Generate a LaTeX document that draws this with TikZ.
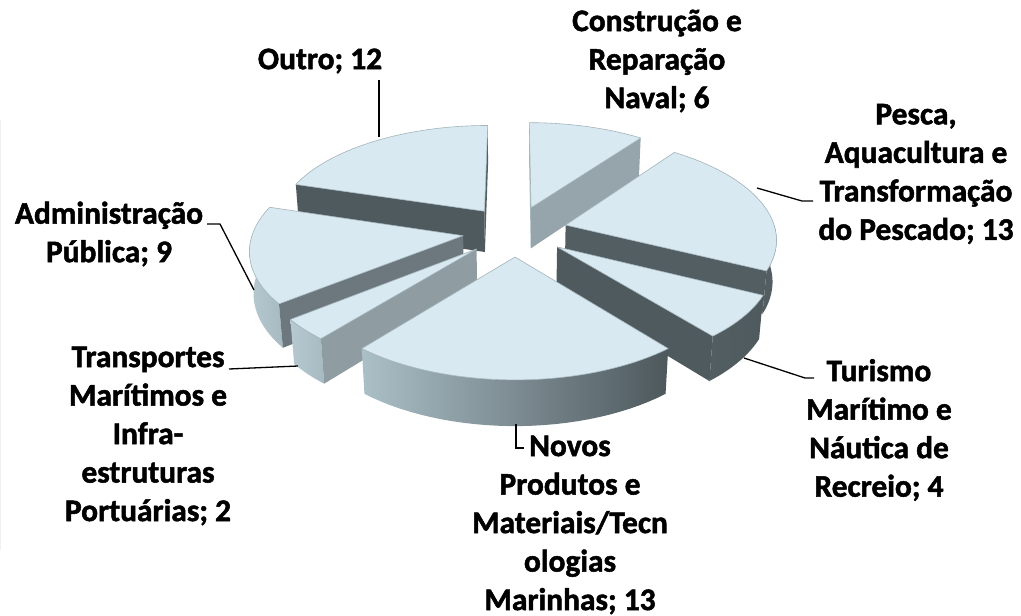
\documentclass[tikz,border=0pt]{standalone}
\usepackage{fontspec}
\setmainfont{Carlito}[BoldFont={Carlito Bold},BoldFeatures={FakeBold=1.6}]
\definecolor{topc}{HTML}{D8E9F1}
\definecolor{edgec}{HTML}{A3B4BB}
\definecolor{darkface}{HTML}{4F5A5E}
\definecolor{darkface2}{HTML}{535E62}
\definecolor{midface}{HTML}{6C787D}
\definecolor{lightface}{HTML}{8F9DA3}
\definecolor{constface}{HTML}{95A5AB}
\definecolor{sliver}{HTML}{A6B7BE}
\definecolor{curvL}{HTML}{B7C9D0}
\definecolor{curvL2}{HTML}{A7B9C1}
\definecolor{novL}{HTML}{ABBFC7}
\definecolor{novR}{HTML}{4D585C}
\begin{document}
\begin{tikzpicture}[x=1pt,y=-1pt,
  declare function={
    px(\X,\Y,\Z)=515+\X/(1+(\Y*0.8771-\Z*0.4802)/1500);
    py(\X,\Y,\Z)=231-(\Y*0.4802+\Z*0.8771)/(1+(\Y*0.8771-\Z*0.4802)/1500);
  },
  lbl/.style={font=\fontsize{31.4}{38.5}\selectfont\bfseries, align=center, inner sep=0pt, text=black},
  leader/.style={draw=black, line width=1.3pt},
  topface/.style={fill=topc, draw=edgec, line width=0.6pt, line join=round},
]
\useasboundingbox (0,0) rectangle (1021,616);
\fill[white] (0,0) rectangle (1021,616);
\draw[gray!12, line width=1pt] (0.5,120) -- (0.5,550);

\newcommand\slicecenter[1]{\pgfmathsetmacro\ox{52.5*cos(#1)}\pgfmathsetmacro\oy{52.5*sin(#1)}}
\newcommand\radialface[2]{%
  \fill[#2] ({px(\ox,\oy,0)},{py(\ox,\oy,0)})
    -- ({px(\ox+210*cos(#1),\oy+210*sin(#1),0)},{py(\ox+210*cos(#1),\oy+210*sin(#1),0)})
    -- ({px(\ox+210*cos(#1),\oy+210*sin(#1),-48)},{py(\ox+210*cos(#1),\oy+210*sin(#1),-48)})
    -- ({px(\ox,\oy,-48)},{py(\ox,\oy,-48)}) -- cycle;}
\newcommand\curvedface[3]{%
  \path[#3] plot[domain=#1:#2,samples=30,variable=\t]
      ({px(\ox+210*cos(\t),\oy+210*sin(\t),0)},{py(\ox+210*cos(\t),\oy+210*sin(\t),0)})
    -- plot[domain=#2:#1,samples=30,variable=\t]
      ({px(\ox+210*cos(\t),\oy+210*sin(\t),-48)},{py(\ox+210*cos(\t),\oy+210*sin(\t),-48)}) -- cycle;}
\newcommand\topf[2]{%
  \filldraw[topface] ({px(\ox,\oy,0)},{py(\ox,\oy,0)})
    -- plot[domain=#1:#2,samples=40,variable=\t]
      ({px(\ox+210*cos(\t),\oy+210*sin(\t),0)},{py(\ox+210*cos(\t),\oy+210*sin(\t),0)}) -- cycle;}

% Outro: 90 .. 163.2203
\slicecenter{126.6102}
\radialface{90}{darkface2}
\radialface{163.2203}{darkface}
\topf{90}{163.2203}

% Construcao: 53.3898 .. 90
\slicecenter{71.6949}
\radialface{90}{sliver}
\radialface{53.3898}{constface}
\topf{53.3898}{90}

% Administracao: -196.7797 .. -141.8644
\slicecenter{-169.3220}
\curvedface{-180}{-141.8644}{left color=curvL, right color=curvL2}
\radialface{-141.8644}{midface}
\topf{-196.7797}{-141.8644}

% Pesca: -25.9322 .. 53.3898
\slicecenter{13.7288}
\curvedface{-25.9322}{0}{fill=darkface2}
\radialface{-25.9322}{darkface2}
\topf{-25.9322}{53.3898}

% Transportes: -141.8644 .. -129.6610
\slicecenter{-135.7627}
\curvedface{-141.8644}{-129.6610}{left color=curvL, right color=curvL2}
\radialface{-129.6610}{lightface}
\topf{-141.8644}{-129.6610}

% Turismo: -50.3390 .. -25.9322
\slicecenter{-38.1356}
\curvedface{-50.3390}{-25.9322}{left color=darkface2, right color=darkface}
\radialface{-50.3390}{darkface}
\topf{-50.3390}{-25.9322}

% Novos: -129.6610 .. -50.3390
\slicecenter{-90}
\curvedface{-129.6610}{-50.3390}{left color=novL, right color=novR}
\topf{-129.6610}{-50.3390}

% labels
\node[lbl] (lOutro) at (320,61) {Outro; 12};
\node[lbl] (lConst) at (657,61) {Construção e\\Reparação\\Naval; 6};
\node[lbl] (lPesca) at (916,174) {Pesca,\\Aquacultura e\\Transformação\\do Pescado; 13};
\node[lbl] (lTur) at (879,430) {Turismo\\Marítimo e\\Náutica de\\Recreio; 4};
\node[lbl] (lNovos) at (570,525) {Novos\\Produtos e\\Materiais/Tecn\\ologias\\Marinhas; 13};
\node[lbl] (lAdmin) at (109,234) {Administração\\Pública; 9};
\node[lbl] (lTrans) at (148,436) {Transportes\\Marítimos e\\Infra-\\estruturas\\Portuárias; 2};

% leader lines
\coordinate (cOutroA) at (379,80);
\coordinate (cOutroB) at (379,137);
\draw[leader] (cOutroA) -- (cOutroB);
\coordinate (cAdminA) at (207,224);
\coordinate (cAdminK) at (220,224);
\coordinate (cAdminB) at (254,290);
\draw[leader] (cAdminA) -- (cAdminK) -- (cAdminB);
\coordinate (cTransA) at (229,369);
\coordinate (cTransB) at (298,366);
\draw[leader] (cTransA) -- (cTransB);
\coordinate (cPescaA) at (813,201);
\coordinate (cPescaK) at (802,201);
\coordinate (cPescaB) at (757,188);
\draw[leader] (cPescaA) -- (cPescaK) -- (cPescaB);
\coordinate (cTurA) at (814,378);
\coordinate (cTurK) at (805,378);
\coordinate (cTurB) at (744,358);
\draw[leader] (cTurA) -- (cTurK) -- (cTurB);
\coordinate (cNovA) at (524,448);
\coordinate (cNovK) at (516,448);
\coordinate (cNovB) at (516,424);
\draw[leader] (cNovA) -- (cNovK) -- (cNovB);
\end{tikzpicture}
\end{document}
